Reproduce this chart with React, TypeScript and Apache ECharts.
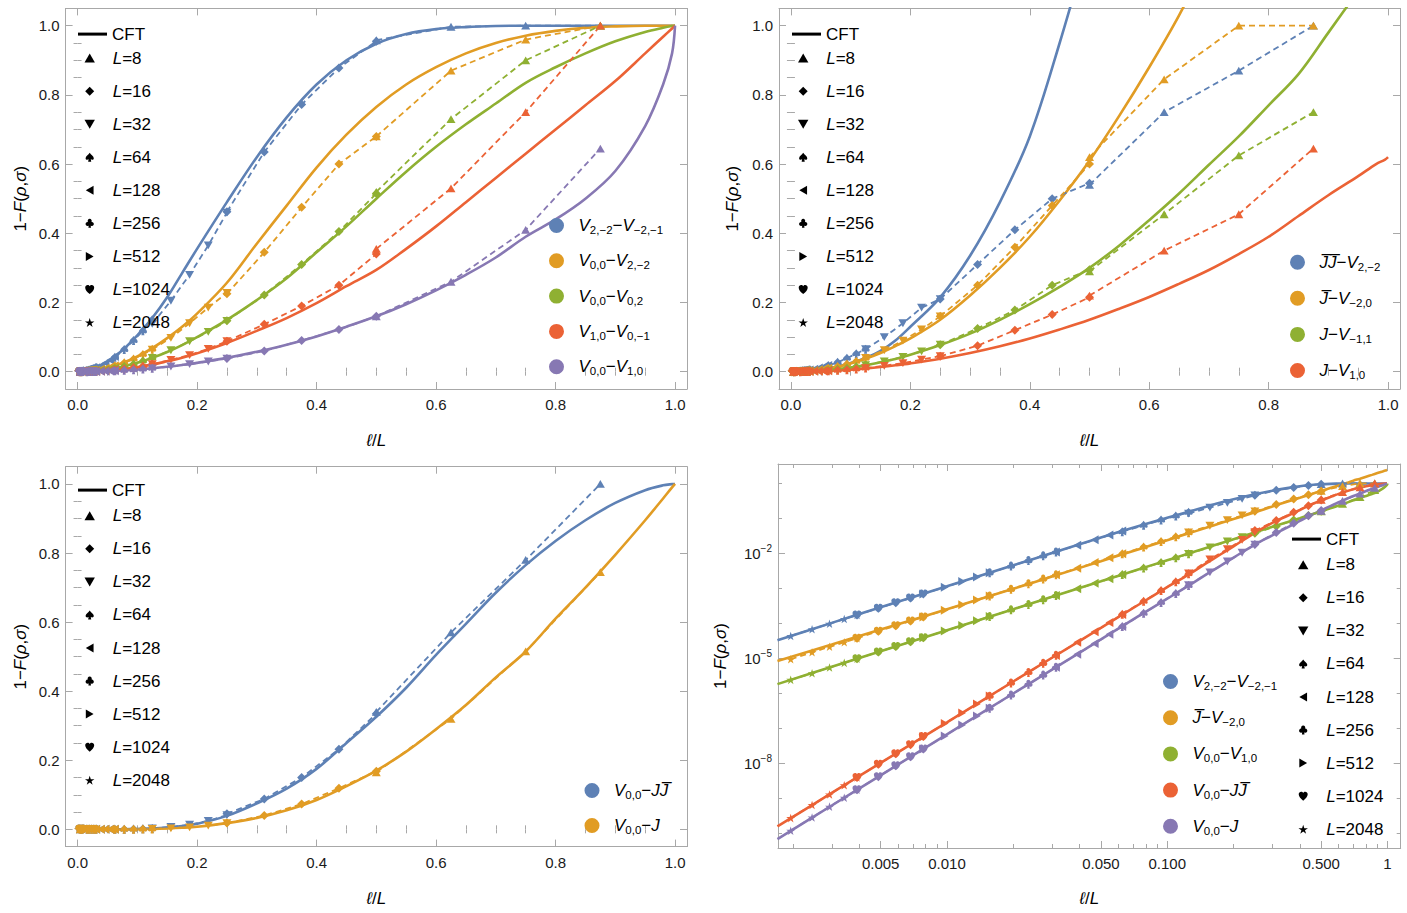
import React, { useEffect, useRef } from 'react';
import * as echarts from 'echarts';

// ---------------- data ----------------
const L_SIZES = [8, 16, 32, 64, 128, 256, 512, 1024, 2048];
const ELLS = [4, 5, 6, 7, 8];

const CFT_X = [0, 0.0017, 0.003, 0.005, 0.01, 0.02, 0.03, 0.05, 0.075, 0.1, 0.125, 0.15, 0.175, 0.2, 0.25, 0.3, 0.35, 0.4, 0.45, 0.5, 0.55, 0.6, 0.65, 0.7, 0.75, 0.8, 0.85, 0.9, 0.95, 0.98, 0.995, 1];

const CFT_A = [0, 3.3e-5, 1.04e-4, 2.9e-4, 1.15e-3, 4.6e-3, 1.03e-2, 2.85e-2, 0.062, 0.105, 0.155, 0.215, 0.285, 0.355, 0.49, 0.62, 0.735, 0.83, 0.9, 0.948, 0.976, 0.99, 0.996, 0.999, 1, 1, 1, 1, 1, 1, 1, 1];
const CFT_B = [0, 1.3e-5, 4.0e-5, 1.1e-4, 4.5e-4, 1.8e-3, 4.0e-3, 0.011, 0.025, 0.044, 0.068, 0.097, 0.13, 0.168, 0.257, 0.37, 0.48, 0.59, 0.685, 0.765, 0.83, 0.88, 0.92, 0.95, 0.971, 0.985, 0.994, 0.998, 1, 1, 1, 1];
const CFT_C = [0, 7.4e-6, 2.3e-5, 6.4e-5, 2.56e-4, 1.02e-3, 2.3e-3, 6.4e-3, 0.0144, 0.0256, 0.04, 0.057, 0.077, 0.1, 0.15, 0.207, 0.27, 0.345, 0.42, 0.5, 0.578, 0.65, 0.715, 0.775, 0.835, 0.88, 0.92, 0.955, 0.982, 0.994, 0.999, 1];
const CFT_D = [0, 3.8e-6, 1.17e-5, 3.25e-5, 1.3e-4, 5.2e-4, 1.17e-3, 3.25e-3, 7.3e-3, 0.013, 0.0205, 0.03, 0.04, 0.053, 0.083, 0.118, 0.155, 0.198, 0.247, 0.294, 0.355, 0.42, 0.49, 0.56, 0.63, 0.7, 0.77, 0.84, 0.92, 0.968, 0.992, 1];
const CFT_E = [0, 1.85e-6, 5.8e-6, 1.6e-5, 6.4e-5, 2.56e-4, 5.8e-4, 1.6e-3, 3.6e-3, 6.4e-3, 0.01, 0.0144, 0.0196, 0.0256, 0.04, 0.0576, 0.078, 0.102, 0.13, 0.16, 0.195, 0.235, 0.28, 0.33, 0.39, 0.44, 0.5, 0.58, 0.71, 0.83, 0.92, 1];
const CFT_F = [0, 7e-6, 2.2e-5, 6e-5, 2.4e-4, 9.6e-4, 2.2e-3, 6e-3, 0.0138, 0.025, 0.04, 0.06, 0.09, 0.13, 0.215, 0.335, 0.49, 0.68, 0.95, 1.25, null, null, null, null, null, null, null, null, null, null, null, null];
const CFT_G = [0, 8.5e-6, 2.5e-5, 6.7e-5, 2.55e-4, 9.8e-4, 2.2e-3, 6.0e-3, 0.0135, 0.024, 0.0375, 0.054, 0.074, 0.096, 0.15, 0.22, 0.3, 0.39, 0.495, 0.61, 0.74, 0.88, 1.03, 1.2, 1.37, 1.56, 1.76, 1.98, 2.2, 2.34, 2.42, 2.44];
const CFT_H = [0, 3.5e-6, 1.1e-5, 3.05e-5, 1.22e-4, 4.9e-4, 1.1e-3, 3.05e-3, 6.9e-3, 0.0122, 0.019, 0.0275, 0.037, 0.049, 0.077, 0.11, 0.15, 0.195, 0.245, 0.3, 0.365, 0.438, 0.515, 0.598, 0.68, 0.77, 0.86, 0.98, 1.1, 1.17, 1.2, 1.22];
const CFT_I = [0, 1.7e-6, 5.4e-6, 1.5e-5, 6e-5, 2.4e-4, 5.4e-4, 1.5e-3, 3.4e-3, 6e-3, 9.4e-3, 0.0135, 0.0184, 0.024, 0.0375, 0.054, 0.0735, 0.096, 0.122, 0.15, 0.182, 0.216, 0.254, 0.294, 0.34, 0.39, 0.45, 0.51, 0.565, 0.6, 0.613, 0.62];
const CFT_J = [0, 1.6e-10, 1.44e-9, 1.04e-8, 1.5e-7, 2.2e-6, 1.05e-5, 7.5e-5, 3.6e-4, 1.09e-3, 2.5e-3, 5.2e-3, 9.5e-3, 0.016, 0.039, 0.075, 0.118, 0.175, 0.25, 0.326, 0.41, 0.505, 0.595, 0.685, 0.765, 0.835, 0.895, 0.945, 0.982, 0.996, 0.9995, 1];
const CFT_K = [0, 6.9e-11, 6.3e-10, 4.6e-9, 6.8e-8, 1.0e-6, 4.8e-6, 3.5e-5, 1.7e-4, 5.1e-4, 1.2e-3, 2.5e-3, 4.5e-3, 7.6e-3, 0.018, 0.033, 0.055, 0.085, 0.125, 0.17, 0.225, 0.29, 0.36, 0.44, 0.515, 0.61, 0.7, 0.795, 0.895, 0.958, 0.99, 1];

// lattice values, one row per L (L=8: l=4..7, others: l=4..8)
const LAT_A = [
  [0.958, 0.997, 1.0, 1.0],
  [0.462, 0.635, 0.772, 0.878, 0.955],
  [0.138, 0.205, 0.28, 0.365, 0.46],
  [0.042, 0.064, 0.09, 0.118, 0.15],
  [0.0111, 0.0173, 0.0248, 0.0336, 0.0437],
  [0.0028, 0.00436, 0.00628, 0.00855, 0.0111],
  [7.0e-4, 1.09e-3, 1.57e-3, 2.14e-3, 2.8e-3],
  [1.75e-4, 2.73e-4, 3.93e-4, 5.35e-4, 7.0e-4],
  [4.4e-5, 6.85e-5, 9.85e-5, 1.34e-4, 1.75e-4],
];
const LAT_B = [
  [0.68, 0.87, 0.96, 1.0],
  [0.225, 0.345, 0.475, 0.6, 0.68],
  [0.064, 0.098, 0.14, 0.185, 0.228],
  [0.017, 0.026, 0.037, 0.05, 0.065],
  [0.0044, 0.0068, 0.0098, 0.0133, 0.0174],
  [1.1e-3, 1.72e-3, 2.47e-3, 3.36e-3, 4.4e-3],
  [2.75e-4, 4.3e-4, 6.2e-4, 8.4e-4, 1.1e-3],
  [6.9e-5, 1.07e-4, 1.55e-4, 2.1e-4, 2.75e-4],
  [1.72e-5, 2.7e-5, 3.9e-5, 5.3e-5, 6.9e-5],
];
const LAT_C = [
  [0.52, 0.73, 0.9, 1.0],
  [0.147, 0.222, 0.31, 0.405, 0.515],
  [0.04, 0.062, 0.088, 0.115, 0.147],
  [0.01, 0.0157, 0.0226, 0.031, 0.04],
  [2.5e-3, 3.9e-3, 5.6e-3, 7.7e-3, 0.01],
  [6.3e-4, 9.8e-4, 1.41e-3, 1.92e-3, 2.5e-3],
  [1.57e-4, 2.45e-4, 3.5e-4, 4.8e-4, 6.3e-4],
  [3.9e-5, 6.1e-5, 8.8e-5, 1.2e-4, 1.57e-4],
  [9.8e-6, 1.53e-5, 2.2e-5, 3.0e-5, 3.9e-5],
];
const LAT_D = [
  [0.355, 0.53, 0.75, 1.0],
  [0.088, 0.137, 0.19, 0.25, 0.34],
  [0.022, 0.034, 0.048, 0.066, 0.088],
  [5.5e-3, 8.5e-3, 0.012, 0.0165, 0.022],
  [1.4e-3, 2.1e-3, 3.0e-3, 4.1e-3, 5.5e-3],
  [3.4e-4, 5.3e-4, 7.6e-4, 1.04e-3, 1.36e-3],
  [8.5e-5, 1.33e-4, 1.9e-4, 2.6e-4, 3.4e-4],
  [2.1e-5, 3.3e-5, 4.8e-5, 6.5e-5, 8.5e-5],
  [5.3e-6, 8.3e-6, 1.2e-5, 1.6e-5, 2.1e-5],
];
const LAT_E = [
  [0.16, 0.26, 0.41, 0.645],
  [0.038, 0.06, 0.09, 0.122, 0.16],
  [0.0098, 0.015, 0.022, 0.0295, 0.038],
  [2.5e-3, 3.85e-3, 5.5e-3, 7.5e-3, 9.8e-3],
  [6.3e-4, 9.8e-4, 1.4e-3, 1.9e-3, 2.5e-3],
  [1.57e-4, 2.45e-4, 3.5e-4, 4.8e-4, 6.3e-4],
  [3.9e-5, 6.1e-5, 8.8e-5, 1.2e-4, 1.57e-4],
  [9.8e-6, 1.53e-5, 2.2e-5, 3.0e-5, 3.9e-5],
  [2.45e-6, 3.8e-6, 5.5e-6, 7.5e-6, 9.8e-6],
];
const LAT_F = [
  [0.54, 0.75, 0.87, 1.0],
  [0.21, 0.31, 0.41, 0.5, 0.545],
  [0.065, 0.1, 0.14, 0.185, 0.21],
  [0.018, 0.027, 0.039, 0.052, 0.065],
  [4.7e-3, 7.2e-3, 0.0104, 0.014, 0.018],
  [1.2e-3, 1.85e-3, 2.65e-3, 3.6e-3, 4.7e-3],
  [3.0e-4, 4.6e-4, 6.6e-4, 9.0e-4, 1.2e-3],
  [7.5e-5, 1.15e-4, 1.65e-4, 2.25e-4, 3.0e-4],
  [1.9e-5, 2.9e-5, 4.1e-5, 5.6e-5, 7.5e-5],
];
const LAT_G = [
  [0.62, 0.845, 1.0, 1.0],
  [0.16, 0.25, 0.36, 0.48, 0.6],
  [0.04, 0.062, 0.09, 0.122, 0.16],
  [9.8e-3, 0.0153, 0.022, 0.03, 0.039],
  [2.45e-3, 3.8e-3, 5.5e-3, 7.5e-3, 9.8e-3],
  [6.1e-4, 9.5e-4, 1.37e-3, 1.87e-3, 2.45e-3],
  [1.53e-4, 2.4e-4, 3.45e-4, 4.7e-4, 6.1e-4],
  [3.8e-5, 6.0e-5, 8.6e-5, 1.17e-4, 1.53e-4],
  [9.5e-6, 1.5e-5, 2.15e-5, 2.9e-5, 3.8e-5],
];
const LAT_H = [
  [0.29, 0.455, 0.625, 0.75],
  [0.078, 0.125, 0.178, 0.25, 0.295],
  [0.019, 0.03, 0.043, 0.059, 0.078],
  [4.8e-3, 7.5e-3, 0.0108, 0.0147, 0.019],
  [1.2e-3, 1.87e-3, 2.7e-3, 3.7e-3, 4.8e-3],
  [3.0e-4, 4.7e-4, 6.7e-4, 9.2e-4, 1.2e-3],
  [7.5e-5, 1.17e-4, 1.68e-4, 2.3e-4, 3.0e-4],
  [1.9e-5, 2.9e-5, 4.2e-5, 5.7e-5, 7.5e-5],
  [4.7e-6, 7.3e-6, 1.05e-5, 1.43e-5, 1.9e-5],
];
const LAT_I = [
  [0.22, 0.35, 0.455, 0.645],
  [0.045, 0.075, 0.12, 0.165, 0.215],
  [0.0105, 0.017, 0.025, 0.035, 0.045],
  [2.6e-3, 4.1e-3, 5.9e-3, 8.0e-3, 0.0105],
  [6.5e-4, 1.0e-3, 1.47e-3, 2.0e-3, 2.6e-3],
  [1.6e-4, 2.5e-4, 3.6e-4, 5.0e-4, 6.5e-4],
  [4.0e-5, 6.3e-5, 9.0e-5, 1.23e-4, 1.6e-4],
  [1.0e-5, 1.56e-5, 2.25e-5, 3.1e-5, 4.0e-5],
  [2.5e-6, 3.9e-6, 5.6e-6, 7.7e-6, 1.0e-5],
];
const LAT_J = [
  [0.34, 0.57, 0.78, 1.0],
  [0.045, 0.088, 0.15, 0.232, 0.335],
  [2.7e-3, 6.8e-3, 0.0133, 0.0245, 0.041],
  [1.85e-4, 4.3e-4, 8.7e-4, 1.55e-3, 2.65e-3],
  [1.22e-5, 2.9e-5, 5.8e-5, 1.06e-4, 1.8e-4],
  [8.4e-7, 2.0e-6, 4.0e-6, 7.3e-6, 1.24e-5],
  [5.8e-8, 1.38e-7, 2.76e-7, 5.0e-7, 8.5e-7],
  [4.0e-9, 9.5e-9, 1.9e-8, 3.45e-8, 5.9e-8],
  [2.75e-10, 6.5e-10, 1.3e-9, 2.4e-9, 4.0e-9],
];
const LAT_K = [
  [0.165, 0.32, 0.515, 0.745],
  [0.018, 0.04, 0.073, 0.119, 0.168],
  [1.25e-3, 2.9e-3, 5.9e-3, 0.0105, 0.0178],
  [8.2e-5, 1.96e-4, 4.0e-4, 7.2e-4, 1.21e-3],
  [5.6e-6, 1.33e-5, 2.7e-5, 4.9e-5, 8.2e-5],
  [3.8e-7, 9.0e-7, 1.85e-6, 3.35e-6, 5.6e-6],
  [2.6e-8, 6.1e-8, 1.26e-7, 2.28e-7, 3.8e-7],
  [1.77e-9, 4.2e-9, 8.6e-9, 1.55e-8, 2.6e-8],
  [1.2e-10, 2.85e-10, 5.85e-10, 1.05e-9, 1.77e-9],
];

// ticks
const LIN_MAJOR = [0, 0.2, 0.4, 0.6, 0.8, 1.0];
const LIN_MINOR = [0.05, 0.1, 0.15, 0.25, 0.3, 0.35, 0.45, 0.5, 0.55, 0.65, 0.7, 0.75, 0.85, 0.9, 0.95];
const LOGX_MAJOR = [0.005, 0.01, 0.05, 0.1, 0.5, 1];
const LOGX_MINOR = [0.002, 0.003, 0.004, 0.006, 0.007, 0.008, 0.009, 0.02, 0.03, 0.04, 0.06, 0.07, 0.08, 0.09, 0.2, 0.3, 0.4, 0.6, 0.7, 0.8, 0.9];
const LOGY_MAJOR = [1e-8, 1e-5, 1e-2];
const LOGY_MINOR = [1e-10, 1e-9, 1e-7, 1e-6, 1e-4, 1e-3, 1e-1, 1];

// labels (rich text)
const OP_LABELS: Record<string, string> = {
  A: '{v|V}{s|2,−2}{n|−}{v|V}{s|−2,−1}',
  B: '{v|V}{s|0,0}{n|−}{v|V}{s|2,−2}',
  C: '{v|V}{s|0,0}{n|−}{v|V}{s|0,2}',
  D: '{v|V}{s|1,0}{n|−}{v|V}{s|0,−1}',
  E: '{v|V}{s|0,0}{n|−}{v|V}{s|1,0}',
  F: '{v|J\u0305J\u0305}{n|−}{v|V}{s|2,−2}',
  G: '{v|J\u0305}{n|−}{v|V}{s|−2,0}',
  H: '{v|J}{n|−}{v|V}{s|−1,1}',
  I: '{v|J}{n|−}{v|V}{s|1,0}',
  J: '{v|V}{s|0,0}{n|−}{v|JJ\u0305}',
  K: '{v|V}{s|0,0}{n|−}{v|J}',
};

// ---------------- styling ----------------
const FONT = "'Liberation Sans', Arial, sans-serif";
const FRAME = '#a8a8a8';
const TXT = '#1a1a1a';
const BLUE = '#5E81B5';
const ORANGE = '#E19C24';
const GREEN = '#8FB032';
const RED = '#EB6235';
const PURPLE = '#8778B3';

const MARKERS = [
  'path://M5,0L10,8.66L0,8.66Z',
  'path://M5,0L10,5L5,10L0,5Z',
  'path://M0,0L10,0L5,8.66Z',
  'path://M5,0C6.5,2.5 10,4.2 10,6.6C10,8.4 8.1,9.2 6.3,8L6.9,11L3.1,11L3.7,8C1.9,9.2 0,8.4 0,6.6C0,4.2 3.5,2.5 5,0Z',
  'path://M0,5L8.66,0L8.66,10Z',
  'path://M5,0.1A2.5,2.5 0 1 1 4.99,0.1ZM2.5,3.8A2.5,2.5 0 1 1 2.49,3.8ZM7.5,3.8A2.5,2.5 0 1 1 7.49,3.8ZM4.4,5L5.6,5L6.6,11L3.4,11Z',
  'path://M0,0L8.66,5L0,10Z',
  'path://M5,10C2,7.5 0,5.5 0,3C0,1.2 1.3,0 2.8,0C3.8,0 4.6,0.6 5,1.5C5.4,0.6 6.2,0 7.2,0C8.7,0 10,1.2 10,3C10,5.5 8,7.5 5,10Z',
  'path://M5,0L6.12,3.46L9.76,3.46L6.81,5.59L7.94,9.05L5,6.9L2.06,9.05L3.19,5.59L0.24,3.46L3.88,3.46Z',
];
const CIRCLE = 'path://M0,5A5,5 0 1 1 10,5A5,5 0 1 1 0,5Z';

const RICH = {
  v: { fontFamily: FONT, fontSize: 17, fontStyle: 'italic', color: '#000', lineHeight: 20 },
  n: { fontFamily: FONT, fontSize: 17, color: '#000', lineHeight: 20 },
  s: { fontFamily: FONT, fontSize: 11.5, color: '#000', lineHeight: 20, padding: [9, 0, 0, 0] },
  b: { fontFamily: FONT, fontSize: 15, color: TXT, lineHeight: 18 },
  p: { fontFamily: FONT, fontSize: 10, color: TXT, lineHeight: 18, padding: [0, 0, 9, 0] },
};

const DATASETS: Record<string, { cft: (number | null)[]; lat: number[][] }> = {
  A: { cft: CFT_A, lat: LAT_A }, B: { cft: CFT_B, lat: LAT_B }, C: { cft: CFT_C, lat: LAT_C },
  D: { cft: CFT_D, lat: LAT_D }, E: { cft: CFT_E, lat: LAT_E }, F: { cft: CFT_F, lat: LAT_F },
  G: { cft: CFT_G, lat: LAT_G }, H: { cft: CFT_H, lat: LAT_H }, I: { cft: CFT_I, lat: LAT_I },
  J: { cft: CFT_J, lat: LAT_J }, K: { cft: CFT_K, lat: LAT_K },
};

const PANELS = [
  {
    log: false, grid: { left: 65.6, top: 8.4, width: 621.4, height: 380.6 }, xGap: 41, yGap: 35,
    items: [['A', BLUE], ['B', ORANGE], ['C', GREEN], ['D', RED], ['E', PURPLE]],
    cftLeg: { left: 78, top: 25.6 }, lLeg: { left: 84.5, top: 49.6 }, opLeg: { left: 549, top: 215, gap: 14.3 },
  },
  {
    log: false, grid: { left: 779, top: 8.4, width: 621, height: 380.6 }, xGap: 41, yGap: 37,
    items: [['F', BLUE], ['G', ORANGE], ['H', GREEN], ['I', RED]],
    cftLeg: { left: 792, top: 25.6 }, lLeg: { left: 798, top: 49.6 }, opLeg: { left: 1290, top: 251.7, gap: 15.1 },
  },
  {
    log: false, grid: { left: 65.6, top: 466.7, width: 621.4, height: 379.9 }, xGap: 41.7, yGap: 35,
    items: [['J', BLUE], ['K', ORANGE]],
    cftLeg: { left: 78, top: 481.6 }, lLeg: { left: 84.5, top: 507.3 }, opLeg: { left: 584.5, top: 780, gap: 14 },
  },
  {
    log: true, grid: { left: 778, top: 464, width: 622.7, height: 384 }, xGap: 40, yGap: 48,
    items: [['A', BLUE], ['G', ORANGE], ['E', GREEN], ['J', RED], ['K', PURPLE]],
    cftLeg: { left: 1292, top: 530.6 }, lLeg: { left: 1298, top: 556.3 }, opLeg: { left: 1163, top: 671, gap: 15.2 },
  },
];

const X_NAME = '{v|ℓ}{n|/}{v|L}';
const Y_NAME = '{n|1−}{v|F}{n|(}{v|ρ}{n|,}{v|σ}{n|)}';

function linFmt(v: number) { return v.toFixed(1); }
function logXFmt(v: number) { return v >= 0.999 ? '1' : v.toFixed(3); }
function logYFmt(v: number) {
  const e = Math.round(Math.log10(v));
  return '{b|10}{p|' + (e < 0 ? '−' + Math.abs(e) : String(e)) + '}';
}

function axisPair(dim: 'x' | 'y', g: number, log: boolean, gap: number) {
  const range = dim === 'x'
    ? (log ? { type: 'log', logBase: 10, min: 0.00171, max: 1.148 } : { type: 'value', min: -0.02, max: 1.02 })
    : (log ? { type: 'log', logBase: 10, min: 3.85e-11, max: 3.6 } : { type: 'value', min: -0.05, max: 1.05 });
  const major = dim === 'x' ? (log ? LOGX_MAJOR : LIN_MAJOR) : (log ? LOGY_MAJOR : LIN_MAJOR);
  const minor = dim === 'x' ? (log ? LOGX_MINOR : LIN_MINOR) : (log ? LOGY_MINOR : LIN_MINOR);
  const fmt = dim === 'x' ? (log ? logXFmt : linFmt) : (log ? logYFmt : linFmt);
  const pos = dim === 'x' ? ['bottom', 'top'] : ['left', 'right'];
  const base = { gridIndex: g, ...range, splitLine: { show: false }, minorTick: { show: false }, axisPointer: { show: false }, silent: true };
  const line = { show: true, onZero: false, lineStyle: { color: FRAME, width: 1 } };
  const tick = (vals: number[], len: number) => ({ show: true, inside: true, length: len, customValues: vals, lineStyle: { color: FRAME, width: 1 } });
  return [
    {
      ...base, position: pos[0], axisLine: line, axisTick: tick(major, 7),
      axisLabel: { show: true, customValues: major, formatter: fmt, margin: dim === 'x' ? 8 : 6, fontSize: 15, fontFamily: FONT, color: TXT, rich: RICH },
      name: dim === 'x' ? X_NAME : Y_NAME, nameLocation: 'middle', nameGap: gap, nameRotate: dim === 'x' ? 0 : 90,
      nameMoveOverlap: false,
      nameTextStyle: { fontFamily: FONT, fontSize: 17, color: '#000', rich: RICH },
    },
    { ...base, position: pos[0], axisLine: { show: false }, axisTick: tick(minor, 4), axisLabel: { show: false } },
    { ...base, position: pos[1], axisLine: line, axisTick: tick(major, 7), axisLabel: { show: false } },
    { ...base, position: pos[1], axisLine: { show: false }, axisTick: tick(minor, 4), axisLabel: { show: false } },
  ];
}

function buildOption() {
  const grids: any[] = [];
  const xAxes: any[] = [];
  const yAxes: any[] = [];
  const series: any[] = [];
  const legends: any[] = [];

  PANELS.forEach((p, g) => {
    grids.push({ ...p.grid, containLabel: false, outerBoundsMode: 'none' });
    xAxes.push(...axisPair('x', g, p.log, p.xGap));
    yAxes.push(...axisPair('y', g, p.log, p.yGap));
    const ai = 4 * g;

    p.items.forEach(([key, color]) => {
      const ds = DATASETS[key];
      const cftData = CFT_X.map((x, i) => [x, ds.cft[i]])
        .filter((pt) => pt[1] !== null && (!p.log || ((pt[0] as number) > 0 && (pt[1] as number) > 0)));
      series.push({
        type: 'line', name: `${g}:${key}`, xAxisIndex: ai, yAxisIndex: ai, data: cftData,
        symbol: 'none', showSymbol: false, smooth: 0.35, clip: true,
        lineStyle: { color, width: 2.6 }, itemStyle: { color }, z: 2, silent: true,
      });
      L_SIZES.forEach((L, k) => {
        series.push({
          type: 'line', name: `L=${L}`, xAxisIndex: ai, yAxisIndex: ai,
          data: ds.lat[k].map((y, i) => [ELLS[i] / L, y]),
          symbol: MARKERS[k], symbolSize: 9, symbolKeepAspect: true, showSymbol: true, showAllSymbol: true,
          clip: true, lineStyle: { color, width: 1.8, type: [6, 4] }, itemStyle: { color }, z: 3, silent: true,
        });
      });
    });

    // legends
    legends.push({
      orient: 'vertical', left: p.cftLeg.left, top: p.cftLeg.top, padding: 0, itemGap: 13, selectedMode: false,
      itemWidth: 29, itemHeight: 3, symbolKeepAspect: false,
      data: [{ name: 'CFT', icon: 'rect', itemStyle: { color: '#000', borderWidth: 0 } }],
      formatter: () => '{n|CFT}', textStyle: { fontFamily: FONT, fontSize: 17, color: '#000', rich: RICH },
    });
    legends.push({
      orient: 'vertical', left: p.lLeg.left, top: p.lLeg.top, padding: 0, itemGap: 16.05, selectedMode: false,
      itemWidth: 36, itemHeight: 9, symbolKeepAspect: true,
      data: L_SIZES.map((L, k) => ({ name: `L=${L}`, icon: MARKERS[k], itemStyle: { color: '#000', borderWidth: 0 } })),
      formatter: (name: string) => `{v|L}{n|=${name.slice(2)}}`,
      textStyle: { fontFamily: FONT, fontSize: 17, color: '#000', rich: RICH },
    });
    legends.push({
      orient: 'vertical', left: p.opLeg.left, top: p.opLeg.top, padding: 0, itemGap: p.opLeg.gap, selectedMode: false,
      itemWidth: 34, itemHeight: 15, symbolKeepAspect: true,
      data: p.items.map(([key, color]) => ({ name: `${g}:${key}`, icon: CIRCLE, itemStyle: { color, borderWidth: 0 } })),
      formatter: (name: string) => OP_LABELS[name.split(':')[1]],
      textStyle: { fontFamily: FONT, fontSize: 17, color: '#000', rich: RICH },
    });
  });

  // empty series so that the "CFT" legend entry exists
  series.push({ type: 'line', name: 'CFT', xAxisIndex: 0, yAxisIndex: 0, data: [], lineStyle: { color: '#000' }, itemStyle: { color: '#000' }, symbol: 'none' });

  return {
    animation: false,
    backgroundColor: '#ffffff',
    textStyle: { fontFamily: FONT },
    grid: grids,
    xAxis: xAxes,
    yAxis: yAxes,
    legend: legends,
    series,
  };
}

export default function App() {
  const ref = useRef<HTMLDivElement>(null);
  useEffect(() => {
    if (!ref.current) return;
    const chart = echarts.init(ref.current, null, { renderer: 'svg' });
    chart.setOption(buildOption() as any);
    return () => chart.dispose();
  }, []);
  return (
    <div
      ref={ref}
      style={{ position: 'absolute', left: 0, top: 0, width: 1407, height: 913, background: '#fff' }}
    />
  );
}
